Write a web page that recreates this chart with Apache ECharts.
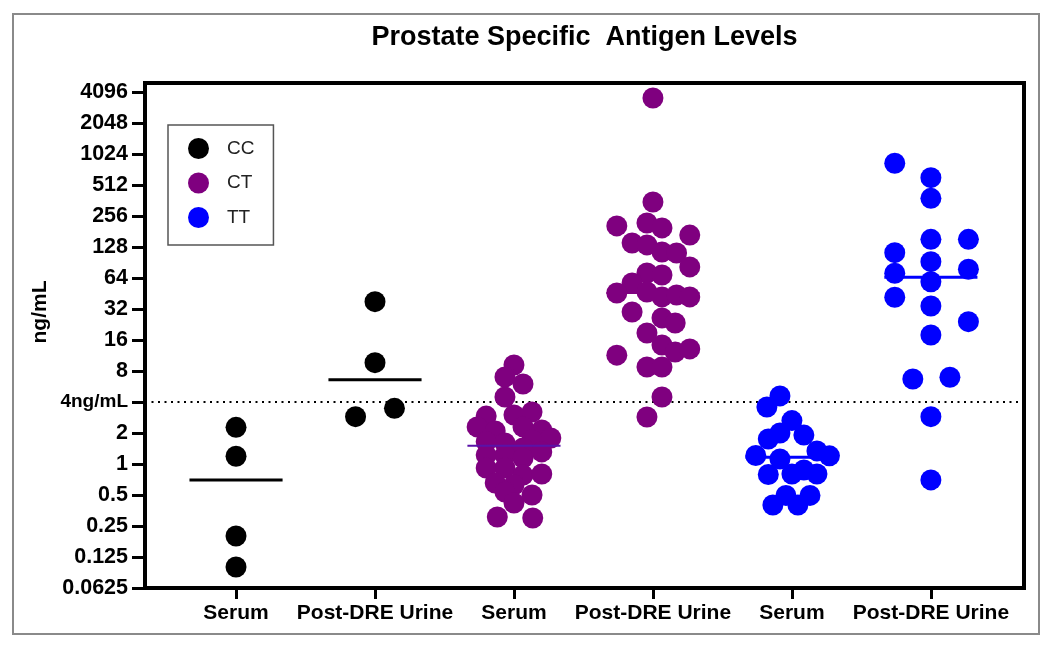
<!DOCTYPE html>
<html><head><meta charset="utf-8">
<script src="https://cdn.jsdelivr.net/npm/echarts@6/dist/echarts.min.js"></script>
<style>html,body{margin:0;padding:0;background:#fff}#c{width:1050px;height:647px}</style>
</head><body><div id="c"></div>
<script>
// ---- data ----
const categories = ['Serum', 'Post-DRE Urine', 'Serum', 'Post-DRE Urine', 'Serum', 'Post-DRE Urine'];
const genotypes = ['CC', 'CT', 'TT'];
const yTickValues = [0.0625, 0.125, 0.25, 0.5, 1, 2, 4, 8, 16, 32, 64, 128, 256, 512, 1024, 2048, 4096];
const threshold = 4;

// CC
const ccSerum = [2.27, 1.19, 0.20, 0.10];
const ccSerumOffset = [0, 0, 0, 0];
const ccUrine = [37.7, 9.64, 2.88, 3.47];
const ccUrineOffset = [0, 0, -0.14, 0.14];
// CT
const ctSerum = [9.15, 6.99, 5.98, 4.47, 2.92, 2.99, 3.20, 2.29, 2.09, 2.29, 2.14, 1.79, 1.71, 1.64, 1.60, 1.43,
  1.22, 1.22, 1.14, 1.31, 0.915, 0.915, 0.78, 0.80, 0.654, 0.625, 0.535, 0.50, 0.418, 0.306, 0.299];
const ctSerumOffset = [0, -0.065, 0.065, -0.065, -0.20, 0, 0.13, -0.265, -0.135, 0.065, 0.20, 0.265, 0.13, -0.20, -0.065, 0.065,
  -0.20, -0.065, 0.065, 0.20, -0.20, -0.065, 0.065, 0.20, -0.135, 0, -0.065, 0.13, 0, -0.12, 0.135];
const ctUrine = [3580, 350, 205, 219, 196, 167, 140, 134, 114.5, 112, 82, 71.6, 68.5, 57.2, 46.8, 45.8,
  41.9, 43.8, 41.9, 29.9, 26.2, 23.4, 18.7, 14.3, 12.2, 13.1, 11.4, 8.75, 8.75, 4.47, 2.86];
const ctUrineOffset = [0, 0, -0.26, -0.043, 0.065, 0.265, -0.15, -0.043, 0.065, 0.17, 0.265, -0.043, 0.065, -0.15, -0.043, -0.26,
  0.065, 0.17, 0.265, -0.15, 0.065, 0.16, -0.043, 0.065, 0.16, 0.265, -0.26, -0.043, 0.065, 0.065, -0.043];
// TT
const ttSerum = [4.58, 3.58, 2.64, 2.0, 1.91, 1.75, 1.21, 1.34, 1.20, 1.12, 0.79, 0.80, 0.874, 0.80, 0.495, 0.495, 0.40, 0.40];
const ttSerumOffset = [-0.086, -0.18, 0, -0.086, 0.086, -0.17, -0.26, 0.18, 0.27, -0.086, -0.17, 0, 0.086, 0.18, -0.043, 0.13, -0.137, 0.043];
const ttUrine = [832, 603, 380, 152, 152, 112.7, 92.2, 77.8, 71.1, 58.9, 41.6, 34.2, 24.1, 17.9, 6.69, 6.95, 2.88, 0.70];
const ttUrineOffset = [-0.26, 0, 0, 0, 0.27, -0.26, 0, 0.27, -0.26, 0, -0.26, 0, 0.27, 0, -0.13, 0.137, 0, 0];

const medians = [0.70, 6.56, 1.5, 45.8, 1.16, 65];

// ---- build chart ----
const colors = ['#000000', '#7f007f', '#0000ff'];
const medianColors = ['#000000', '#000000', '#5a12a8', '#7f007f', '#0000ff', '#0000ff'];
const medianWidths = [3, 3, 2, 2, 3, 3];
const groups = [
  [ccSerum, ccSerumOffset], [ccUrine, ccUrineOffset],
  [ctSerum, ctSerumOffset], [ctUrine, ctUrineOffset],
  [ttSerum, ttSerumOffset], [ttUrine, ttUrineOffset]
];
function pts(gi) {
  const [vals, offs] = groups[gi];
  return vals.map((v, i) => [gi + offs[i], v]);
}
const FONT = '"Liberation Sans", Arial, sans-serif';

const series = genotypes.map((g, k) => ({
  name: g,
  type: 'scatter',
  symbol: 'circle',
  symbolSize: 21,
  itemStyle: { color: colors[k], opacity: 1 },
  data: pts(2 * k).concat(pts(2 * k + 1)),
  z: 3,
  silent: true
}));
series[0].markLine = {
  silent: true, symbol: 'none', z: 1,
  label: { show: false },
  lineStyle: { color: '#000', width: 2, type: [2, 4.5] },
  data: [{ yAxis: threshold }]
};
medians.forEach((m, gi) => {
  series.push({
    type: 'line',
    name: 'median' + gi,
    data: [[gi - 0.335, m], [gi + 0.335, m]],
    symbol: 'none',
    lineStyle: { color: medianColors[gi], width: medianWidths[gi] },
    z: 4,
    silent: true
  });
});

const chart = echarts.init(document.getElementById('c'), null, { renderer: 'canvas' });
chart.setOption({
  animation: false,
  backgroundColor: '#fff',
  graphic: [
    { type: 'rect', z: -10, shape: { x: 13, y: 14, width: 1026, height: 620 },
      style: { fill: 'none', stroke: '#8a8a8a', lineWidth: 2 } },
    { type: 'text', x: 584.5, y: 38, style: { text: 'Prostate Specific  Antigen Levels', fontFamily: FONT,
      fontWeight: 'bold', fontSize: 27, fill: '#000', align: 'center', verticalAlign: 'middle' } },
    { type: 'text', x: 40, y: 312, rotation: Math.PI / 2, style: { text: 'ng/mL', fontFamily: FONT,
      fontWeight: 'bold', fontSize: 21, fill: '#000', align: 'center', verticalAlign: 'middle' } }
  ],
  legend: {
    data: genotypes, orient: 'vertical', left: 168, top: 125,
    itemWidth: 21, itemHeight: 21, itemGap: 13.5, icon: 'circle',
    backgroundColor: '#fff', borderColor: '#555', borderWidth: 1.5,
    padding: [13, 19, 17, 20], selectedMode: false,
    textStyle: { fontSize: 19, color: '#222', fontFamily: FONT, padding: [0, 0, 0, 13] }
  },
  grid: { left: 145, right: 26, top: 83, bottom: 59, show: true, borderColor: '#000', borderWidth: 4, containLabel: false },
  xAxis: {
    type: 'value', min: -0.655, max: 5.67,
    splitLine: { show: false },
    axisLine: { show: true, onZero: false, lineStyle: { color: '#000', width: 4 } },
    axisTick: { show: true, customValues: [0, 1, 2, 3, 4, 5], length: 11, lineStyle: { color: '#000', width: 3 } },
    axisLabel: { customValues: [0, 1, 2, 3, 4, 5], formatter: v => categories[Math.round(v)],
      fontFamily: FONT, fontWeight: 'bold', fontSize: 21, color: '#000', margin: 15 }
  },
  yAxis: {
    type: 'log', logBase: 2, min: 0.0625, max: 5008,
    splitLine: { show: false }, minorTick: { show: false },
    axisLine: { show: true, onZero: false, lineStyle: { color: '#000', width: 4 } },
    axisTick: { show: true, customValues: yTickValues, length: 13, lineStyle: { color: '#000', width: 3 } },
    axisLabel: { customValues: yTickValues,
      formatter: v => (Math.abs(v - threshold) < 1e-9 ? '{t|4ng/mL}' : String(+v.toPrecision(6))),
      rich: { t: { fontFamily: FONT, fontWeight: 'bold', fontSize: 19, color: '#000' } },
      fontFamily: FONT, fontWeight: 'bold', fontSize: 21.5, color: '#000', margin: 17 }
  },
  series: series
});
</script>
</body></html>
